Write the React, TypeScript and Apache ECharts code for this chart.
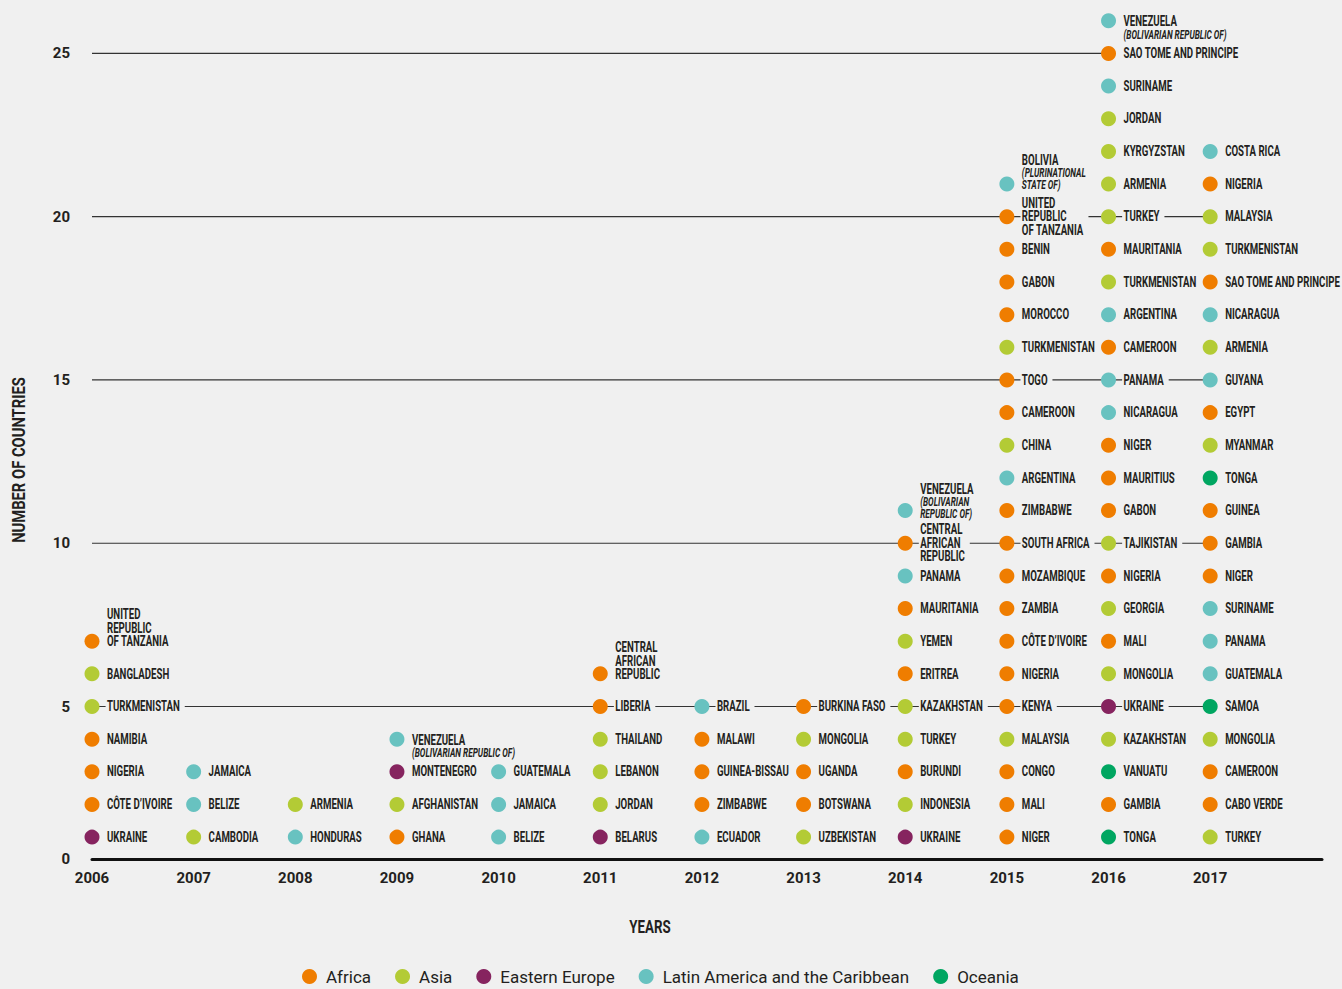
import React, { useEffect, useRef } from "react";
import * as echarts from "echarts";

const REGIONS = ["Africa", "Asia", "Eastern Europe", "Latin America and the Caribbean", "Oceania"];
const REGION_COLORS = ["#ef7d00", "#b3cb35", "#86245f", "#68c2c0", "#00a661"];
// region codes: A=Africa, S=Asia, E=Eastern Europe, L=Latin America and the Caribbean, O=Oceania
const CODE_INDEX: Record<string, number> = { A: 0, S: 1, E: 2, L: 3, O: 4 };

const YEARS = [2006, 2007, 2008, 2009, 2010, 2011, 2012, 2013, 2014, 2015, 2016, 2017];

// each year's countries, bottom (1) to top
const y2006: [string, string][] = [
  ["UKRAINE", "E"], ["CÔTE D’IVOIRE", "A"], ["NIGERIA", "A"], ["NAMIBIA", "A"],
  ["TURKMENISTAN", "S"], ["BANGLADESH", "S"], ["UNITED\nREPUBLIC\nOF TANZANIA", "A"],
];
const y2007: [string, string][] = [["CAMBODIA", "S"], ["BELIZE", "L"], ["JAMAICA", "L"]];
const y2008: [string, string][] = [["HONDURAS", "L"], ["ARMENIA", "S"]];
const y2009: [string, string][] = [
  ["GHANA", "A"], ["AFGHANISTAN", "S"], ["MONTENEGRO", "E"], ["VENEZUELA|(BOLIVARIAN REPUBLIC OF)", "L"],
];
const y2010: [string, string][] = [["BELIZE", "L"], ["JAMAICA", "L"], ["GUATEMALA", "L"]];
const y2011: [string, string][] = [
  ["BELARUS", "E"], ["JORDAN", "S"], ["LEBANON", "S"], ["THAILAND", "S"], ["LIBERIA", "A"],
  ["CENTRAL\nAFRICAN\nREPUBLIC", "A"],
];
const y2012: [string, string][] = [
  ["ECUADOR", "L"], ["ZIMBABWE", "A"], ["GUINEA-BISSAU", "A"], ["MALAWI", "A"], ["BRAZIL", "L"],
];
const y2013: [string, string][] = [
  ["UZBEKISTAN", "S"], ["BOTSWANA", "A"], ["UGANDA", "A"], ["MONGOLIA", "S"], ["BURKINA FASO", "A"],
];
const y2014: [string, string][] = [
  ["UKRAINE", "E"], ["INDONESIA", "S"], ["BURUNDI", "A"], ["TURKEY", "S"], ["KAZAKHSTAN", "S"],
  ["ERITREA", "A"], ["YEMEN", "S"], ["MAURITANIA", "A"], ["PANAMA", "L"],
  ["CENTRAL\nAFRICAN\nREPUBLIC", "A"], ["VENEZUELA|(BOLIVARIAN\nREPUBLIC OF)", "L"],
];
const y2015: [string, string][] = [
  ["NIGER", "A"], ["MALI", "A"], ["CONGO", "A"], ["MALAYSIA", "S"], ["KENYA", "A"], ["NIGERIA", "A"],
  ["CÔTE D’IVOIRE", "A"], ["ZAMBIA", "A"], ["MOZAMBIQUE", "A"], ["SOUTH AFRICA", "A"], ["ZIMBABWE", "A"],
  ["ARGENTINA", "L"], ["CHINA", "S"], ["CAMEROON", "A"], ["TOGO", "A"], ["TURKMENISTAN", "S"],
  ["MOROCCO", "A"], ["GABON", "A"], ["BENIN", "A"], ["UNITED\nREPUBLIC\nOF TANZANIA", "A"],
  ["BOLIVIA|(PLURINATIONAL\nSTATE OF)", "L"],
];
const y2016: [string, string][] = [
  ["TONGA", "O"], ["GAMBIA", "A"], ["VANUATU", "O"], ["KAZAKHSTAN", "S"], ["UKRAINE", "E"],
  ["MONGOLIA", "S"], ["MALI", "A"], ["GEORGIA", "S"], ["NIGERIA", "A"], ["TAJIKISTAN", "S"],
  ["GABON", "A"], ["MAURITIUS", "A"], ["NIGER", "A"], ["NICARAGUA", "L"], ["PANAMA", "L"],
  ["CAMEROON", "A"], ["ARGENTINA", "L"], ["TURKMENISTAN", "S"], ["MAURITANIA", "A"], ["TURKEY", "S"],
  ["ARMENIA", "S"], ["KYRGYZSTAN", "S"], ["JORDAN", "S"], ["SURINAME", "L"],
  ["SAO TOME AND PRINCIPE", "A"], ["VENEZUELA|(BOLIVARIAN REPUBLIC OF)", "L"],
];
const y2017: [string, string][] = [
  ["TURKEY", "S"], ["CABO VERDE", "A"], ["CAMEROON", "A"], ["MONGOLIA", "S"], ["SAMOA", "O"],
  ["GUATEMALA", "L"], ["PANAMA", "L"], ["SURINAME", "L"], ["NIGER", "A"], ["GAMBIA", "A"],
  ["GUINEA", "A"], ["TONGA", "O"], ["MYANMAR", "S"], ["EGYPT", "A"], ["GUYANA", "L"],
  ["ARMENIA", "S"], ["NICARAGUA", "L"], ["SAO TOME AND PRINCIPE", "A"], ["TURKMENISTAN", "S"],
  ["MALAYSIA", "S"], ["NIGERIA", "A"], ["COSTA RICA", "L"],
];

const BY_YEAR = [y2006, y2007, y2008, y2009, y2010, y2011, y2012, y2013, y2014, y2015, y2016, y2017];
const Y_TICKS = [5, 10, 15, 20, 25];

// vertical label shifts (style only) keyed "year-position"
const LABEL_SHIFT: Record<string, number> = {
  "2006-7": -13, "2011-6": -13, "2015-21": -12, "2014-11": -9, "2009-4": 7, "2016-26": 7,
};

const FONT = "Roboto, 'Noto Sans', sans-serif";
const BG = "#f0f0f0";
const INK = "#231f20";
const SQUEEZE = 0.69;

function fmtLabel(name: string): string {
  const [main, ital] = name.split("|");
  let s = main.split("\n").map((l) => `{n|${l}}`).join("\n");
  if (ital) s += "\n" + ital.split("\n").map((l) => `{i|${l}}`).join("\n");
  return s;
}

export default function App() {
  const ref = useRef<HTMLDivElement>(null);
  useEffect(() => {
    document.body.style.margin = "0";
    document.body.style.background = BG;
    const chart = echarts.init(ref.current!, null, { renderer: "svg" });

    const dotSeries = REGIONS.map((region, ri) => {
      const data: number[][] = [];
      YEARS.forEach((yr, yi) => {
        BY_YEAR[yi].forEach(([, code], k) => {
          if (CODE_INDEX[code] === ri) data.push([yr, k + 1]);
        });
      });
      return {
        name: region,
        type: "scatter",
        z: 5,
        symbol: "circle",
        symbolSize: 15,
        itemStyle: { color: REGION_COLORS[ri], opacity: 1 },
        data,
        emphasis: { disabled: true },
      };
    });

    const labelData: number[][] = [];
    const labelInfo: { text: string; shift: number }[] = [];
    YEARS.forEach((yr, yi) => {
      BY_YEAR[yi].forEach(([name], k) => {
        labelData.push([yr, k + 1]);
        labelInfo.push({ text: fmtLabel(name), shift: LABEL_SHIFT[`${yr}-${k + 1}`] || 0 });
      });
    });

    const labelSeries = {
      name: "labels",
      type: "custom",
      z: 3,
      silent: true,
      encode: { x: 0, y: 1 },
      data: labelData,
      renderItem: (params: any, api: any) => {
        const pt = api.coord([api.value(0), api.value(1)]);
        const info = labelInfo[params.dataIndex];
        return {
          type: "text",
          x: pt[0] + 13.6,
          y: pt[1] + info.shift,
          scaleX: SQUEEZE,
          style: {
            text: info.text,
            align: "left",
            verticalAlign: "middle",
            backgroundColor: BG,
            padding: [1, 7, 1, 2],
            rich: {
              n: { fontFamily: FONT, fontSize: 14, fontWeight: "bold", fill: INK, lineHeight: 13.5 },
              i: { fontFamily: FONT, fontSize: 12, fontWeight: "bold", fontStyle: "italic", fill: INK, lineHeight: 12 },
            },
          },
        };
      },
    };

    const lineSeries = Y_TICKS.map((lvl) => {
      let end = YEARS[0];
      YEARS.forEach((yr, yi) => {
        if (BY_YEAR[yi].length >= lvl) end = yr;
      });
      return {
        name: `line${lvl}`,
        type: "line",
        z: 1,
        silent: true,
        symbol: "none",
        lineStyle: { color: "#333333", width: 1.2 },
        data: [[YEARS[0], lvl], [end, lvl]],
      };
    });

    chart.setOption({
      animation: false,
      backgroundColor: BG,
      grid: { left: 92, right: 20, top: 10, bottom: 130 },
      xAxis: {
        type: "value",
        min: 2006,
        max: 2018.1,
        interval: 1,
        axisLine: { show: true, lineStyle: { color: "#111", width: 3 } },
        axisTick: { show: false },
        splitLine: { show: false },
        axisLabel: {
          margin: 11,
          fontFamily: FONT,
          fontSize: 15,
          fontWeight: "bold",
          color: INK,
          formatter: (v: number) => (v <= 2017 && Number.isInteger(v) ? String(v) : ""),
        },
      },
      yAxis: {
        type: "value",
        min: 0.33,
        max: 26.33,
        axisLine: { show: false },
        axisTick: { show: false },
        splitLine: { show: false },
        axisLabel: {
          customValues: [0.33, ...Y_TICKS],
          margin: 22,
          fontFamily: FONT,
          fontSize: 15,
          fontWeight: "bold",
          color: INK,
          formatter: (v: number) => (v < 1 ? "0" : String(v)),
        },
      },
      legend: {
        data: REGIONS,
        icon: "circle",
        left: 297,
        top: 963,
        itemWidth: 15,
        itemHeight: 15,
        itemGap: 24,
        textStyle: { fontFamily: FONT, fontSize: 17, color: INK, padding: [0, 0, 0, 4] },
      },
      graphic: [
        {
          type: "text",
          x: 650,
          y: 927,
          scaleX: 0.74,
          style: { text: "YEARS", fontFamily: FONT, fontSize: 18, fontWeight: "bold", fill: INK, align: "center", verticalAlign: "middle" },
        },
        {
          type: "text",
          x: 19,
          y: 460,
          rotation: Math.PI / 2,
          scaleX: 0.82,
          style: { text: "NUMBER OF COUNTRIES", fontFamily: FONT, fontSize: 18, fontWeight: "bold", fill: INK, align: "center", verticalAlign: "middle" },
        },
      ],
      series: [...lineSeries, labelSeries, ...dotSeries],
    });
    return () => chart.dispose();
  }, []);
  return <div ref={ref} style={{ width: 1342, height: 989, background: BG }} />;
}
